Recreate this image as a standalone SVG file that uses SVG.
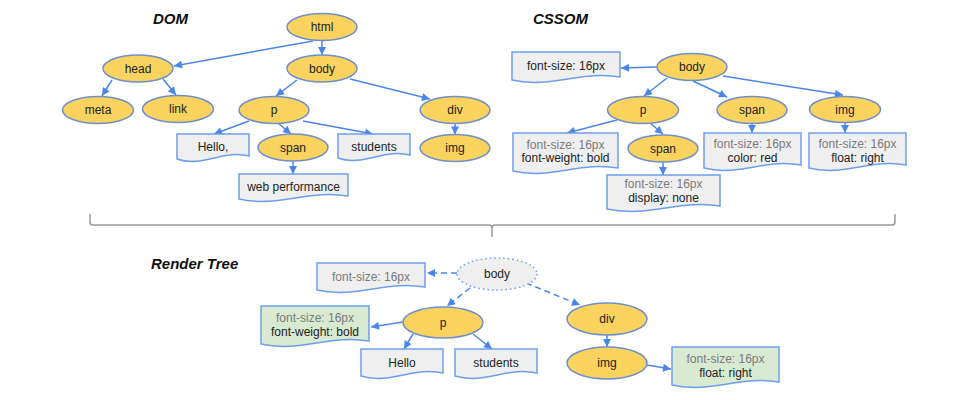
<svg xmlns="http://www.w3.org/2000/svg" width="958" height="400" viewBox="0 0 958 400">
<style>
  text { font-family: "Liberation Sans", Arial, sans-serif; font-size: 12px; fill: #222; text-anchor: middle; }
  .title { font-size: 15px; font-weight: bold; font-style: italic; text-anchor: start; fill: #111; }
  .gray { fill: #7a7a7a; }
  .el { fill: #fad35f; stroke: #6f8fca; stroke-width: 1.5; }
  .ghost { fill: #efefef; stroke: #6d9eeb; stroke-width: 1.5; stroke-dasharray: 1.5,3; }
  .box { fill: #efefef; stroke: #6d9eeb; stroke-width: 1.5; }
  .green { fill: #d9ead3; stroke: #6d9eeb; stroke-width: 1.5; }
  .c { stroke: #4a86e8; stroke-width: 1.5; fill: none; marker-end: url(#arr); }
  .d { stroke-dasharray: 6,4; }
  .brace { fill: none; stroke: #999; stroke-width: 1.5; }
</style>
<defs>
  <marker id="arr" viewBox="0 0 10 10" refX="10" refY="5" markerUnits="userSpaceOnUse" markerWidth="9" markerHeight="8" orient="auto">
    <path d="M0,0 L10,5 L0,10 z" fill="#4a86e8"/>
  </marker>
</defs>
<rect width="958" height="400" fill="#ffffff"/>

<text class="title" x="153" y="24">DOM</text>
<text class="title" x="533" y="24">CSSOM</text>
<text class="title" x="151" y="269">Render Tree</text>

<g id="connectors">
  <!-- DOM -->
  <line class="c" x1="313" y1="41" x2="174" y2="66"/>
  <line class="c" x1="322" y1="41" x2="322" y2="55"/>
  <line class="c" x1="112" y1="80" x2="102" y2="96"/>
  <line class="c" x1="163" y1="79" x2="176" y2="95"/>
  <line class="c" x1="297" y1="80" x2="276" y2="96"/>
  <line class="c" x1="350" y1="79" x2="430" y2="99"/>
  <line class="c" x1="249" y1="121" x2="214" y2="134"/>
  <line class="c" x1="278" y1="123" x2="291" y2="134"/>
  <line class="c" x1="303" y1="121" x2="373" y2="134"/>
  <line class="c" x1="293" y1="161" x2="293" y2="174"/>
  <line class="c" x1="455" y1="123.5" x2="455" y2="134.5"/>
  <!-- CSSOM -->
  <line class="c" x1="657" y1="67" x2="621" y2="68"/>
  <line class="c" x1="667" y1="78" x2="644" y2="96"/>
  <line class="c" x1="693" y1="81" x2="727" y2="97"/>
  <line class="c" x1="723" y1="76" x2="843" y2="95"/>
  <line class="c" x1="617" y1="120" x2="567" y2="133"/>
  <line class="c" x1="650" y1="123" x2="663" y2="134"/>
  <line class="c" x1="752" y1="123.5" x2="752" y2="133"/>
  <line class="c" x1="845" y1="123" x2="845" y2="133"/>
  <line class="c" x1="663" y1="162" x2="663" y2="175"/>
  <!-- Render tree -->
  <line class="c d" x1="457" y1="273" x2="427" y2="273"/>
  <line class="c d" x1="470" y1="288" x2="447" y2="306"/>
  <line class="c d" x1="526" y1="283" x2="580" y2="305"/>
  <line class="c" x1="403" y1="322" x2="371" y2="327"/>
  <line class="c" x1="413" y1="334" x2="404" y2="349"/>
  <line class="c" x1="473" y1="334" x2="492" y2="349"/>
  <line class="c" x1="607" y1="335" x2="607" y2="347"/>
  <line class="c" x1="647" y1="365" x2="671" y2="369"/>
</g>

<!-- DOM nodes -->
<g id="dom-html"><ellipse class="el" cx="322" cy="27" rx="35" ry="13.5"/><text x="322" y="31">html</text></g>
<g id="dom-head"><ellipse class="el" cx="138" cy="68.5" rx="35" ry="13.5"/><text x="138" y="72.5">head</text></g>
<g id="dom-body"><ellipse class="el" cx="322" cy="68.5" rx="35" ry="13.5"/><text x="322" y="72.5">body</text></g>
<g id="dom-meta"><ellipse class="el" cx="98" cy="110" rx="35.5" ry="13.5"/><text x="98" y="114">meta</text></g>
<g id="dom-link"><ellipse class="el" cx="178" cy="109" rx="35.5" ry="13.5"/><text x="178" y="113">link</text></g>
<g id="dom-p"><ellipse class="el" cx="274" cy="110" rx="35" ry="13.5"/><text x="274" y="114">p</text></g>
<g id="dom-div"><ellipse class="el" cx="455" cy="110" rx="35" ry="13.5"/><text x="455" y="114">div</text></g>
<g id="dom-img"><ellipse class="el" cx="455" cy="148" rx="35" ry="13.5"/><text x="455" y="152">img</text></g>
<g id="dom-span"><ellipse class="el" cx="293" cy="147.5" rx="35" ry="13.5"/><text x="293" y="151.5">span</text></g>
<g id="dom-hello"><path class="box" d="M177,134 H249 V156 C223.8,149 202.2,168 177,159 Z"/><text x="213" y="151">Hello,</text></g>
<g id="dom-students"><path class="box" d="M338,134 H410 V155 C384.8,148 363.2,167 338,158 Z"/><text x="374" y="151">students</text></g>
<g id="dom-webperf"><path class="box" d="M239,174 H348 V196 C309.85,189 277.15,208 239,199 Z"/><text x="293.5" y="191">web performance</text></g>

<!-- CSSOM nodes -->
<g id="css-fontsize"><path class="box" d="M512,52 H620 V77 C582.2,70 549.8,89 512,80 Z"/><text x="566" y="70">font-size: 16px</text></g>
<g id="css-body"><ellipse class="el" cx="692" cy="67" rx="35" ry="13.5"/><text x="692" y="71">body</text></g>
<g id="css-p"><ellipse class="el" cx="643" cy="110" rx="35.5" ry="13.5"/><text x="643" y="114">p</text></g>
<g id="css-span"><ellipse class="el" cx="752" cy="110" rx="35" ry="13.5"/><text x="752" y="114">span</text></g>
<g id="css-img"><ellipse class="el" cx="845" cy="109.5" rx="35.5" ry="13"/><text x="845" y="113.5">img</text></g>
<g id="css-p-style"><path class="box" d="M513,133 H618 V168 C581.25,161 549.75,180 513,171 Z"/><text class="gray" x="565.5" y="149">font-size: 16px</text><text x="565.5" y="162">font-weight: bold</text></g>
<g id="css-span2"><ellipse class="el" cx="663" cy="148.5" rx="35" ry="13.5"/><text x="663" y="152.5">span</text></g>
<g id="css-span2-style"><path class="box" d="M607,175 H720 V206 C680.45,199 646.55,218 607,209 Z"/><text class="gray" x="663.5" y="188">font-size: 16px</text><text x="663.5" y="202">display: none</text></g>
<g id="css-span-style"><path class="box" d="M704,133 H801 V165 C767.05,158 737.95,177 704,168 Z"/><text class="gray" x="752.5" y="148">font-size: 16px</text><text x="752.5" y="162">color: red</text></g>
<g id="css-img-style"><path class="box" d="M809,133 H906 V165 C872.05,158 842.95,177 809,168 Z"/><text class="gray" x="857.5" y="148">font-size: 16px</text><text x="857.5" y="162">float: right</text></g>

<!-- brace -->
<path class="brace" d="M90,214 V222 Q90,225 93,225 H489 Q492,225 492,228 V237 M492,228 Q492,225 495,225 H892 Q895,225 895,222 V214"/>

<!-- Render tree nodes -->
<g id="rt-fontsize"><path class="box" d="M317,263 H425 V287 C387.2,280 354.8,299 317,290 Z"/><text class="gray" x="371" y="281">font-size: 16px</text></g>
<g id="rt-body"><ellipse class="ghost" cx="497" cy="274" rx="40" ry="16"/><text x="497" y="278">body</text></g>
<g id="rt-p-style"><path class="green" d="M261,306 H369 V341 C331.2,334 298.8,353 261,344 Z"/><text class="gray" x="315" y="322">font-size: 16px</text><text x="315" y="336">font-weight: bold</text></g>
<g id="rt-p"><ellipse class="el" cx="443" cy="322.5" rx="40" ry="15.5"/><text x="443" y="326.5">p</text></g>
<g id="rt-hello"><path class="box" d="M361,349 H443 V373 C414.3,366 389.7,385 361,376 Z"/><text x="402" y="367">Hello</text></g>
<g id="rt-students"><path class="box" d="M455,349 H537 V373 C508.3,366 483.7,385 455,376 Z"/><text x="496" y="367">students</text></g>
<g id="rt-div"><ellipse class="el" cx="607" cy="319" rx="40" ry="16"/><text x="607" y="323">div</text></g>
<g id="rt-img"><ellipse class="el" cx="607" cy="363" rx="40" ry="16"/><text x="607" y="367">img</text></g>
<g id="rt-img-style"><path class="green" d="M672,347 H779 V382 C741.55,375 709.45,394 672,385 Z"/><text class="gray" x="725.5" y="363">font-size: 16px</text><text x="725.5" y="377">float: right</text></g>
</svg>
